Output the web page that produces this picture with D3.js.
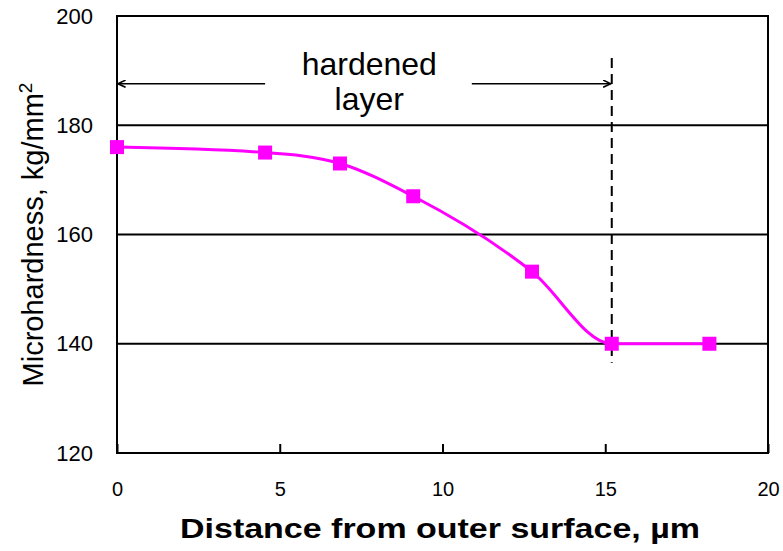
<!DOCTYPE html>
<html>
<head>
<meta charset="utf-8">
<script src="https://cdn.jsdelivr.net/npm/d3@7"></script>
<style>
  body { margin: 0; background: #fff; }
  text { font-family: Arial, "Liberation Sans", sans-serif; }
</style>
</head>
<body>
<svg id="chart" width="783" height="551"></svg>
<script>
// data
const distance = [0, 4.55, 6.85, 9.1, 12.75, 15.2, 18.2];
const hardness = [176, 175, 173, 167, 153.2, 140, 140];
const xTicks = [0, 5, 10, 15, 20];
const yTicks = [120, 140, 160, 180, 200];
const layerEnd = 15.2;
const layerLabel = ["hardened", "layer"];

const svg = d3.select("svg#chart");

// plot area
const padding = { top: 16, right: 15, bottom: 98, left: 117 };
const chartArea = {
  width: +svg.attr("width") - padding.left - padding.right,
  height: +svg.attr("height") - padding.top - padding.bottom
};

const xScale = d3.scaleLinear().domain([0, 20]).range([0, chartArea.width]);
const yScale = d3.scaleLinear().domain([120, 200]).range([chartArea.height, 0]);

const g = svg.append("g")
  .attr("transform", `translate(${padding.left}, ${padding.top})`);

// gridlines
g.selectAll("line.grid")
  .data(yTicks.filter(v => v > 120 && v < 200))
  .enter()
  .append("line")
  .attr("class", "grid")
  .attr("x1", 0)
  .attr("x2", chartArea.width)
  .attr("y1", d => yScale(d))
  .attr("y2", d => yScale(d))
  .attr("stroke", "#000")
  .attr("stroke-width", 2);

// frame
g.append("rect")
  .attr("width", chartArea.width)
  .attr("height", chartArea.height)
  .attr("fill", "none")
  .attr("stroke", "#000")
  .attr("stroke-width", 2);

// axes
const xAxis = g.append("g")
  .attr("transform", `translate(0, ${chartArea.height})`)
  .call(d3.axisBottom(xScale).tickValues(xTicks).tickSize(-9).tickPadding(29).tickFormat(d3.format("d")));
xAxis.select(".domain").remove();
xAxis.selectAll("line").attr("stroke-width", 2);
xAxis.selectAll("text").style("font-size", "20px").attr("fill", "#000");

const yAxis = g.append("g")
  .call(d3.axisLeft(yScale).tickValues(yTicks).tickSize(0).tickPadding(24));
yAxis.select(".domain").remove();
yAxis.selectAll("text").style("font-size", "22px").attr("fill", "#000");

// hardened layer marker
g.append("line")
  .attr("x1", xScale(layerEnd))
  .attr("x2", xScale(layerEnd))
  .attr("y1", yScale(192.3))
  .attr("y2", yScale(136.5))
  .attr("stroke", "#000")
  .attr("stroke-width", 2)
  .attr("stroke-dasharray", "10,6");

svg.append("defs").append("marker")
  .attr("id", "arrow")
  .attr("viewBox", "0 0 10 10")
  .attr("refX", 9.5)
  .attr("refY", 5)
  .attr("markerWidth", 10)
  .attr("markerHeight", 8)
  .attr("markerUnits", "userSpaceOnUse")
  .attr("orient", "auto")
  .append("path")
  .attr("d", "M0,0.5 L9.5,5 L0,9.5")
  .attr("fill", "none")
  .attr("stroke", "#000")
  .attr("stroke-width", 2);

const arrowY = yScale(187.6);
g.append("line")
  .attr("x1", xScale(4.55)).attr("x2", xScale(0) + 1)
  .attr("y1", arrowY).attr("y2", arrowY)
  .attr("stroke", "#000").attr("stroke-width", 1.5)
  .attr("marker-end", "url(#arrow)");
g.append("line")
  .attr("x1", xScale(10.9)).attr("x2", xScale(layerEnd) - 1)
  .attr("y1", arrowY).attr("y2", arrowY)
  .attr("stroke", "#000").attr("stroke-width", 1.5)
  .attr("marker-end", "url(#arrow)");

g.selectAll("text.layer")
  .data(layerLabel)
  .enter()
  .append("text")
  .attr("class", "layer")
  .attr("x", xScale(7.75))
  .attr("y", (d, i) => 59 + i * 35)
  .attr("text-anchor", "middle")
  .attr("font-size", 32)
  .text(d => d);

// series
const pts = distance.map((d, i) => [d, hardness[i]]);
g.append("path")
  .datum(pts)
  .attr("fill", "none")
  .attr("stroke", "#ff00ff")
  .attr("stroke-width", 3)
  .attr("d", d3.line().x(d => xScale(d[0])).y(d => yScale(d[1])).curve(d3.curveMonotoneX));

g.selectAll("rect.pt")
  .data(pts)
  .enter()
  .append("rect")
  .attr("class", "pt")
  .attr("x", d => xScale(d[0]) - 7)
  .attr("y", d => yScale(d[1]) - 7)
  .attr("width", 14)
  .attr("height", 14)
  .attr("fill", "#ff00ff");

// axis titles
svg.append("text")
  .attr("x", 440)
  .attr("y", 538)
  .attr("text-anchor", "middle")
  .attr("font-size", 27)
  .attr("font-weight", "bold")
  .attr("textLength", 520)
  .attr("lengthAdjust", "spacingAndGlyphs")
  .text("Distance from outer surface, µm");

const yTitle = svg.append("text")
  .attr("transform", `translate(43, ${padding.top + chartArea.height / 2}) rotate(-90)`)
  .attr("text-anchor", "middle")
  .attr("font-size", 29);
yTitle.append("tspan").text("Microhardness, kg/mm");
yTitle.append("tspan").attr("dy", -11).attr("font-size", 19).text("2");
</script>
</body>
</html>
